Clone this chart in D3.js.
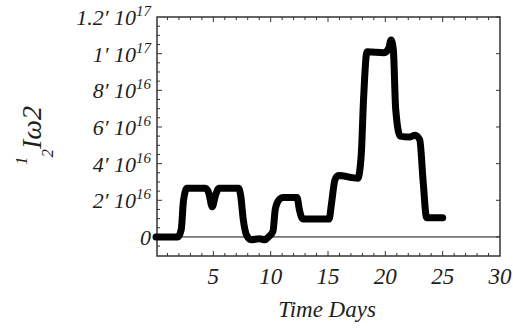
<!DOCTYPE html>
<html>
<head>
<meta charset="utf-8">
<script src="https://cdn.jsdelivr.net/npm/d3@7"></script>
<style>
  body { margin: 0; background: #fff; }
  svg text { font-family: "Liberation Serif", "DejaVu Serif", serif; font-style: italic; fill: #1e1e1e; }
</style>
</head>
<body>
<div id="chart"></div>
<script>
const width = 513
const height = 328

// time in days, value in units of 1e16
const days = [0, 1.9, 2.2, 2.4, 2.7, 4.3, 4.6, 4.9, 5.2, 5.5, 7.2, 7.4, 7.6, 7.9, 8.3, 9.0, 9.5, 9.8, 10.2, 10.4,
  10.7, 11.1, 12.3, 12.5, 12.8, 15.1, 15.3, 15.6, 15.9, 17.6, 17.9, 18.1, 18.4, 19.9, 20.3, 20.5, 20.7, 20.9,
  21.3, 22.1, 22.6, 23.0, 23.3, 23.6, 25.0]
const energy = [0, 0, 0.4, 2.0, 2.65, 2.65, 2.4, 1.65, 2.3, 2.65, 2.65, 2.2, 1.0, 0.1, -0.15, -0.1, -0.15, 0.0, 0.3, 1.5,
  2.0, 2.15, 2.15, 1.5, 0.98, 0.98, 1.8, 3.1, 3.35, 3.2, 4.5, 7.5, 10.1, 10.05, 10.3, 10.75, 10.2, 7.0,
  5.5, 5.45, 5.55, 5.3, 3.0, 1.05, 1.05]

const xTicks = [5, 10, 15, 20, 25, 30]
const yTicks = [0, 2, 4, 6, 8, 10, 12]
const yMant = ['0', '2', '4', '6', '8', '1', '1.2']
const yExp = ['', '16', '16', '16', '16', '17', '17']

const m = { left: 157, right: 500, top: 17, bottom: 256 }

const x = d3.scaleLinear().domain([0, 30]).range([156, m.right])
const y = d3.scaleLinear().domain([-1.04, 12]).range([m.bottom, m.top])

const svg = d3.select('#chart')
  .append('svg')
  .attr('width', width)
  .attr('height', height)

// zero line
svg.append('line')
  .attr('x1', m.left).attr('x2', m.right)
  .attr('y1', y(0)).attr('y2', y(0))
  .attr('stroke', '#111').attr('stroke-width', 1)

// frame ticks
const minorX = d3.range(1, 30)
const minorY = d3.range(-0.5, 12, 0.5).filter(v => v > -1.04)
const tick = svg.append('g').attr('stroke', '#333').attr('stroke-width', 1)

minorX.forEach(v => {
  const len = v % 5 === 0 ? 5 : 3
  tick.append('line').attr('x1', x(v)).attr('x2', x(v)).attr('y1', m.bottom).attr('y2', m.bottom - len)
  tick.append('line').attr('x1', x(v)).attr('x2', x(v)).attr('y1', m.top).attr('y2', m.top + len)
})
minorY.forEach(v => {
  const len = v % 2 === 0 ? 5 : 3
  tick.append('line').attr('x1', m.left).attr('x2', m.left + len).attr('y1', y(v)).attr('y2', y(v))
})
yTicks.forEach(v => {
  tick.append('line').attr('x1', m.right).attr('x2', m.right - 4).attr('y1', y(v)).attr('y2', y(v))
})

// frame
svg.append('rect')
  .attr('x', m.left).attr('y', m.top)
  .attr('width', m.right - m.left).attr('height', m.bottom - m.top)
  .attr('fill', 'none').attr('stroke', '#333').attr('stroke-width', 1.5)

// data
const line = d3.line()
  .x((d, i) => x(days[i]))
  .y(d => y(d))
  .curve(d3.curveMonotoneX)

svg.append('path')
  .datum(energy)
  .attr('d', line)
  .attr('fill', 'none')
  .attr('stroke', '#000')
  .attr('stroke-width', 7)
  .attr('stroke-linejoin', 'round')
  .attr('stroke-linecap', 'round')

// x tick labels
svg.selectAll('.xl')
  .data(xTicks)
  .enter().append('text')
  .attr('class', 'xl')
  .attr('x', d => x(d))
  .attr('y', 284)
  .attr('text-anchor', 'middle')
  .attr('font-size', 23)
  .text(d => d)

// y tick labels
yTicks.forEach((v, i) => {
  const t = svg.append('text')
    .attr('x', 151)
    .attr('y', y(v) + 8)
    .attr('text-anchor', 'end')
    .attr('font-size', 22)
  if (yExp[i] === '') {
    t.text(yMant[i])
  } else {
    t.append('tspan').text(yMant[i] + '\u2032 10')
    t.append('tspan').attr('font-size', 15).attr('dy', -9).text(yExp[i])
  }
})

// axis titles
svg.append('text')
  .attr('x', 327)
  .attr('y', 317)
  .attr('text-anchor', 'middle')
  .attr('font-size', 23)
  .text('Time Days')

const yt = svg.append('text')
  .attr('transform', 'translate(41,165) rotate(-90)')
  .attr('font-size', 28)
yt.append('tspan').attr('font-size', 17).attr('dy', -14).text('1')
yt.append('tspan').attr('font-size', 17).attr('dx', -1).attr('dy', 26).text('2')
yt.append('tspan').attr('dy', -12).text('I\u03c92')
</script>
</body>
</html>
